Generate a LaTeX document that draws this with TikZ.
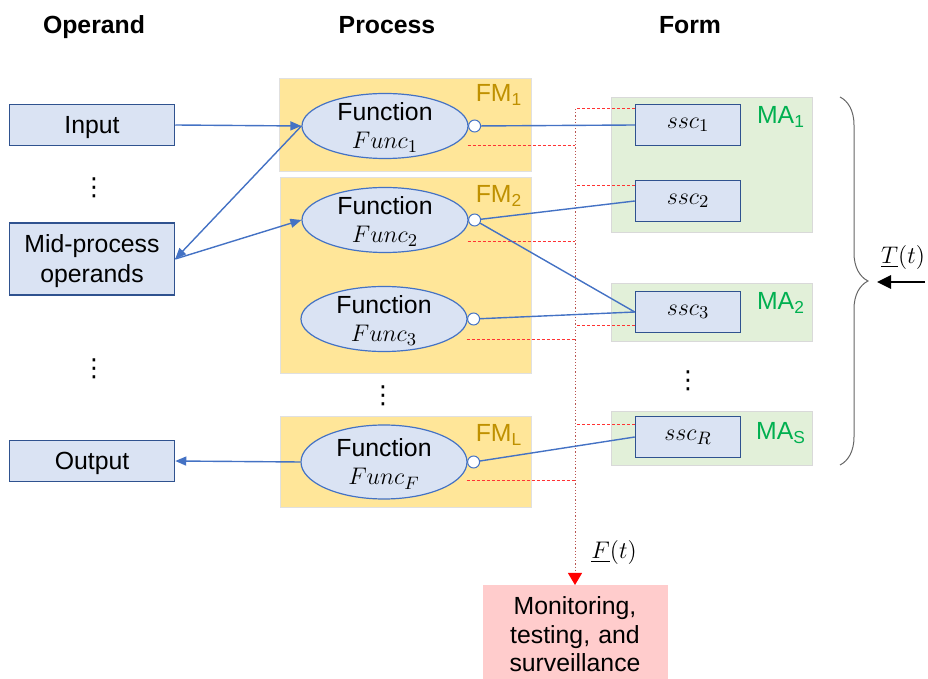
\documentclass[tikz,border=0pt]{standalone}
\usepackage{fontspec}
\setmainfont{Liberation Sans}
\newfontfamily\dotsfont{DejaVu Sans}
\usepackage{tikz}
\definecolor{opfill}{HTML}{DAE3F3}
\definecolor{opedge}{HTML}{2F528F}
\definecolor{fnedge}{HTML}{4472C4}
\definecolor{fmgold}{HTML}{FFE699}
\definecolor{fmtext}{HTML}{BF9000}
\definecolor{magreen}{HTML}{E2F0D9}
\definecolor{matext}{HTML}{00B050}
\definecolor{monpink}{HTML}{FFCCCC}
\definecolor{busred}{HTML}{B85450}
\usetikzlibrary{%
    shapes.geometric,
    arrows.meta,
    calc,
    decorations.pathreplacing,
}
\newcommand{\flatdepth}[1]{\raisebox{0pt}[\height][0pt]{#1}}
\tikzset{%
    base/.style = {
        font=\fontsize{12.4}{14.5}\selectfont,
        inner sep=0pt,
    },
    capcentered/.style = {
        text height=8.9pt,
        text depth=0pt,
    },
    heading/.style = {
        base,
        font=\fontsize{12.4}{14.5}\selectfont\bfseries,
        anchor=base,
    },
    vdotsnode/.style = {
        base,
        font=\fontsize{12.4}{14.5}\dotsfont,
    },
    operand/.style = {
        base,
        rectangle,
        align=center,
        font=\fontsize{12.4}{15}\selectfont,
        draw=opedge,
        fill=opfill,
        line width=0.75pt,
        minimum width=82.5pt,
        minimum height=20.5pt,
    },
    func/.style = {
        base,
        ellipse,
        align=center,
        font=\fontsize{12.4}{14}\selectfont,
        draw=fnedge,
        fill=opfill,
        line width=0.6pt,
        minimum width=83pt,
        minimum height=32.5pt,
    },
    port/.style = {
        circle,
        draw=fnedge,
        fill=white,
        line width=0.5pt,
        minimum size=6pt,
        inner sep=0pt,
    },
    subsys/.style = {
        base,
        rectangle,
        font=\fontsize{13}{15}\selectfont,
        draw=opedge,
        fill=opfill,
        line width=0.75pt,
        minimum width=52.5pt,
        minimum height=20.5pt,
    },
    monitor/.style = {
        base,
        rectangle,
        align=center,
        font=\fontsize{12.4}{14.25}\selectfont,
        fill=monpink,
        text width=92.5pt,
        minimum height=49pt,
        anchor=north,
    },
    fmarea/.style = {fill=fmgold, draw=black!12, line width=0.3pt},
    maarea/.style = {fill=magreen, draw=black!15, line width=0.3pt},
    fmlabel/.style = {base, text=fmtext},
    malabel/.style = {base, text=matext},
    link/.style = {draw=fnedge, line width=0.7pt},
    flow/.style = {link, -{Triangle[length=5.5pt,width=4.5pt]}},
    tap/.style = {draw=red!80!white, line width=0.4pt, dash pattern=on 1.5pt off 1pt},
    bus/.style = {draw=busred, line width=0.5pt, dash pattern=on 0.6pt off 1pt,
        -{Triangle[length=6pt,width=7pt,color=red]}},
    stimulus/.style = {draw=black, line width=1.3pt, -{Triangle[length=7pt,width=6.5pt]}},
}

\begin{document}
\begin{tikzpicture}[x=0.5pt,y=-0.5pt]
    \useasboundingbox (0,0) rectangle (928,679);

    \draw [fmarea] (279,78) rectangle (531,171);
    \draw [fmarea] (280,177) rectangle (531,373);
    \draw [fmarea] (280,416) rectangle (531,507);
    \draw [maarea] (611,97) rectangle (812,232);
    \draw [maarea] (611,283) rectangle (812,341);
    \draw [maarea] (611,411) rectangle (812,465);

    \node [heading] (hoperand) at (94,34) {Operand};
    \node [heading] (hprocess) at (387,34) {Process};
    \node [heading] (hform) at (690,34) {Form};

    \node [operand, capcentered] (input) at (92,125) {Input};
    \node [vdotsnode] (odots1) at (94,188) {⋮};
    \node [operand, minimum height=36pt] (mid) at (92,259) {Mid-process\\\flatdepth{operands}};
    \node [vdotsnode] (odots2) at (94,369) {⋮};
    \node [operand, capcentered] (output) at (92,461) {Output};

    \node [func] (f1) at (385,126) {Function\\\flatdepth{$Func_1$}};
    \node [func] (f2) at (385,220) {Function\\\flatdepth{$Func_2$}};
    \node [func] (f3) at (384,319) {Function\\\flatdepth{$Func_3$}};
    \node [vdotsnode] (fdots) at (383,396) {⋮};
    \node [func, minimum height=37pt] (f4) at (384,462) {Function\\\flatdepth{$Func_F$}};

    \node [fmlabel] (fm1) at (499,95) {FM\textsubscript{1}};
    \node [fmlabel] (fm2) at (499,196) {FM\textsubscript{2}};
    \node [fmlabel] (fml) at (499,435) {FM\textsubscript{L}};

    \node [subsys] (s1) at (688,125) {$ssc_1$};
    \node [subsys] (s2) at (688,201) {$ssc_2$};
    \node [subsys] (s3) at (688,312) {$ssc_3$};
    \node [vdotsnode] (sdots) at (688,381) {⋮};
    \node [subsys] (sR) at (688,437) {$ssc_R$};

    \node [malabel] (ma1) at (781,117) {MA\textsubscript{1}};
    \node [malabel] (ma2) at (781,303) {MA\textsubscript{2}};
    \node [malabel] (mas) at (781,433) {MA\textsubscript{S}};

    \node [monitor] (mon) at (575,585) {Monitoring,\\testing, and\\surveillance};
    \coordinate (bustop) at (575,109);

    \foreach \f/\dy in {f1/19, f2/21, f3/20, f4/18} {
        \coordinate (t) at ($(\f.east)+(-1,\dy)$);
        \draw [tap] (t) -- (t -| bustop);
    }
    \foreach \s/\a/\dy in {s1/north west/5, s2/north west/6, s3/south west/-8, sR/north west/9} {
        \coordinate (t) at ($(\s.\a)+(0,\dy)$);
        \draw [tap] (t) -- (t -| bustop);
    }
    \draw [bus] (bustop) -- (mon.north);
    \node [base, anchor=west] (flabel) at (591,553) {$\underline{F}(t)$};

    \foreach \f [count=\i] in {f1,f2,f3,f4} {
        \node [port] (p\i) at ($(\f.east)+(6,0)$) {};
    }

    \draw [flow] (input.east) -- (f1.west);
    \draw [flow] (f1.west) -- (mid.east);
    \draw [flow] (mid.east) -- (f2.west);
    \draw [flow] (f4.west) -- (output.east);
    \draw [link] (p1) -- (s1.west);
    \draw [link] (p2) -- (s2.west);
    \draw [link] (p2) -- (s3.west);
    \draw [link] (p3) -- (s3.west);
    \draw [link] (p4) -- (sR.west);

    \draw [black!60, line width=0.5pt, decorate, decoration={brace, amplitude=14pt}]
        (840,97) -- (840,465);
    \coordinate (tin) at (925,282);
    \coordinate (tout) at (877,282);
    \draw [stimulus] (tin) -- (tout);
    \node [base] (tlabel) at (903,258) {$\underline{T}(t)$};

\end{tikzpicture}
\end{document}
